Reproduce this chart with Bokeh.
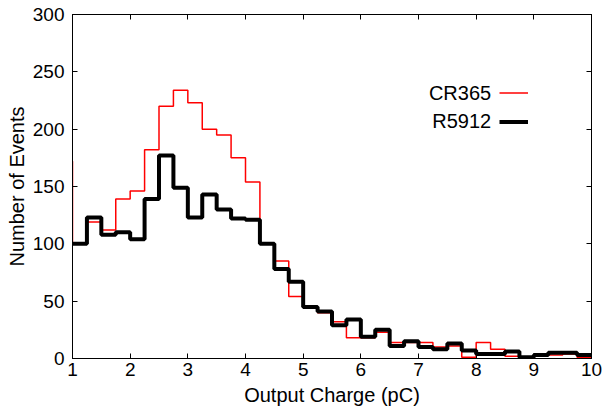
from bokeh.plotting import figure
from bokeh.models import (LinearAxis, FixedTicker, Range1d, Legend, LegendItem, Label)
from bokeh.core.properties import value
from bokeh.embed import file_html
from bokeh.resources import INLINE

# ---- data ----
bin_left = [0.75, 1.0, 1.25, 1.5, 1.75, 2.0, 2.25, 2.5, 2.75, 3.0, 3.25, 3.5, 3.75,
            4.0, 4.25, 4.5, 4.75, 5.0, 5.25, 5.5, 5.75, 6.0, 6.25, 6.5, 6.75,
            7.0, 7.25, 7.5, 7.75, 8.0, 8.25, 8.5, 8.75, 9.0, 9.25, 9.5, 9.75]
bin_right_end = 10.0
cr365 = [172, 100, 119, 112, 139, 146, 182, 220, 234, 223, 200, 195, 175,
         154, 100, 85, 54, 45, 40, 32, 18, 18, 23, 14, 14,
         14, 10, 11, 1, 14, 8, 2, 1, 3, 3, 4, 1]
r5912 = [100, 100, 123, 108, 110, 104, 139, 177, 149, 123, 143, 130, 122,
         121, 100, 78, 67, 45, 41, 29, 34, 19, 25, 11, 15,
         10, 8, 13, 7, 4, 4, 6, 1, 3, 5, 5, 3]
x_ticks = [1, 2, 3, 4, 5, 6, 7, 8, 9, 10]
y_ticks = [0, 50, 100, 150, 200, 250, 300]
series_names = ["CR365", "R5912"]

FONT = "Liberation Sans"

p = figure(width=604, height=413, output_backend="svg", toolbar_location=None,
           x_range=Range1d(1, 10), y_range=Range1d(0, 300),
           min_border_left=72, min_border_right=13, min_border_top=14,
           min_border_bottom=55)
p.outline_line_color = "black"
p.xgrid.visible = False
p.ygrid.visible = False
p.background_fill_color = "white"
p.border_fill_color = "white"

xs = bin_left + [bin_right_end]
r_red = p.step(xs, cr365 + [cr365[-1]], mode="after", line_color="#ff0000", line_width=1.5)
r_blk = p.step(xs, r5912 + [r5912[-1]], mode="after", line_color="black", line_width=4)

def style_axis(ax, ticks, show_labels):
    ax.ticker = FixedTicker(ticks=ticks)
    ax.major_tick_in = 5
    ax.major_tick_out = 0
    ax.minor_tick_line_color = None
    ax.axis_line_color = "black"
    ax.major_tick_line_color = "black"
    ax.major_label_text_font = FONT
    ax.major_label_text_font_size = "19px"
    ax.major_label_text_color = "black"
    ax.axis_label_text_font = FONT
    ax.axis_label_text_font_size = "20px"
    ax.axis_label_text_font_style = "normal"
    ax.axis_label_text_color = "black"
    if not show_labels:
        ax.major_label_overrides = {t: "" for t in ticks}
        ax.major_label_standoff = 0

style_axis(p.xaxis[0], x_ticks, True)
style_axis(p.yaxis[0], y_ticks, True)
p.xaxis[0].axis_label = "Output Charge (pC)"
p.yaxis[0].axis_label = "Number of Events"
p.xaxis[0].major_label_standoff = 4
p.yaxis[0].major_label_standoff = 8
p.xaxis[0].axis_label_standoff = 5
p.yaxis[0].axis_label_standoff = 2

ax_r = LinearAxis()
style_axis(ax_r, y_ticks, False)
p.add_layout(ax_r, "right")
ax_t = LinearAxis()
style_axis(ax_t, x_ticks, False)
p.add_layout(ax_t, "above")

legend = Legend(items=[LegendItem(label=value(""), renderers=[r_red]),
                       LegendItem(label=value(""), renderers=[r_blk])],
                location=(427, 222), glyph_width=29, glyph_height=29, spacing=0,
                padding=0, margin=0, label_width=0, label_standoff=0,
                label_text_font_size="1px", border_line_color=None,
                background_fill_alpha=0)
p.add_layout(legend)

for name, yv in zip(series_names, [231.7, 206.7]):
    p.add_layout(Label(x=8.26, y=yv, text=name, text_align="right",
                       text_baseline="middle", text_font=FONT,
                       text_font_size="20px", text_color="black"))

open("out.html", "w").write(file_html(p, INLINE))
